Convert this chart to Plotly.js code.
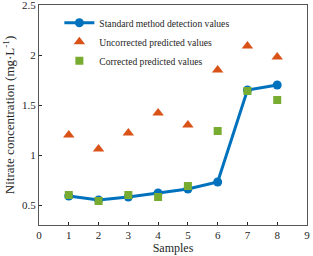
<!DOCTYPE html>
<html><head><meta charset="utf-8">
<script src="https://cdn.plot.ly/plotly-3.0.1.min.js"></script>
<style>html,body{margin:0;padding:0;background:#fff}#c{width:313px;height:256px}</style>
</head><body><div id="c"></div>
<script>
var samples = [1,2,3,4,5,6,7,8];
var standardValues = [0.59,0.55,0.58,0.62,0.66,0.73,1.65,1.70];
var uncorrectedValues = [1.20,1.06,1.22,1.42,1.30,1.85,2.09,1.98];
var correctedValues = [0.60,0.54,0.60,0.58,0.69,1.24,1.64,1.55];
var xTicks = [0,1,2,3,4,5,6,7,8,9];
var yTicks = [0.5,1,1.5,2,2.5];
var yTickText = ['0.5','1','1.5','2','2.5'];

var font = {family:'"Liberation Serif", "Times New Roman", serif', color:'#262626'};
function f(s){ return Object.assign({size:s}, font); }
var traces = [
 {x:samples, y:standardValues, name:'Standard method detection values', type:'scatter', mode:'lines+markers',
  line:{color:'#0072BD', width:3}, marker:{symbol:'circle', size:9, color:'#0072BD'}},
 {x:samples, y:uncorrectedValues, name:'Uncorrected predicted values', type:'scatter', mode:'markers',
  marker:{symbol:'triangle-up', size:10, color:'#D95319'}},
 {x:samples, y:correctedValues, name:'Corrected predicted values', type:'scatter', mode:'markers',
  marker:{symbol:'square', size:8, color:'#77AC30'}}
];
var layout = {
 width:313, height:256,
 margin:{l:39, r:6, t:5, b:31},
 paper_bgcolor:'#fff', plot_bgcolor:'#fff',
 font:f(11),
 showlegend:true,
 legend:{x:0.076, y:0.985, xanchor:'left', yanchor:'top', bgcolor:'rgba(0,0,0,0)', borderwidth:0,
   font:f(9.6), tracegroupgap:0},
 xaxis:{range:[0,9], tickvals:xTicks, ticktext:xTicks.map(String), ticks:'inside', ticklen:3, tickcolor:'#262626',
   showgrid:false, zeroline:false, showline:true, linecolor:'#555', linewidth:1, mirror:true,
   tickfont:f(11), ticklabeloverflow:'allow',
   title:{text:'Samples', font:f(12), standoff:3}},
 yaxis:{range:[0.3,2.5001], tickvals:yTicks, ticktext:yTickText, ticks:'inside', ticklen:3, tickcolor:'#262626',
   showgrid:false, zeroline:false, showline:true, linecolor:'#555', linewidth:1, mirror:true,
   tickfont:f(11), ticklabeloverflow:'allow',
   title:{text:'Nitrate concentration (mg·L<sup>-1</sup>)', font:f(13), standoff:4}}
};
Plotly.newPlot('c', traces, layout, {displayModeBar:false, staticPlot:true});
</script></body></html>
